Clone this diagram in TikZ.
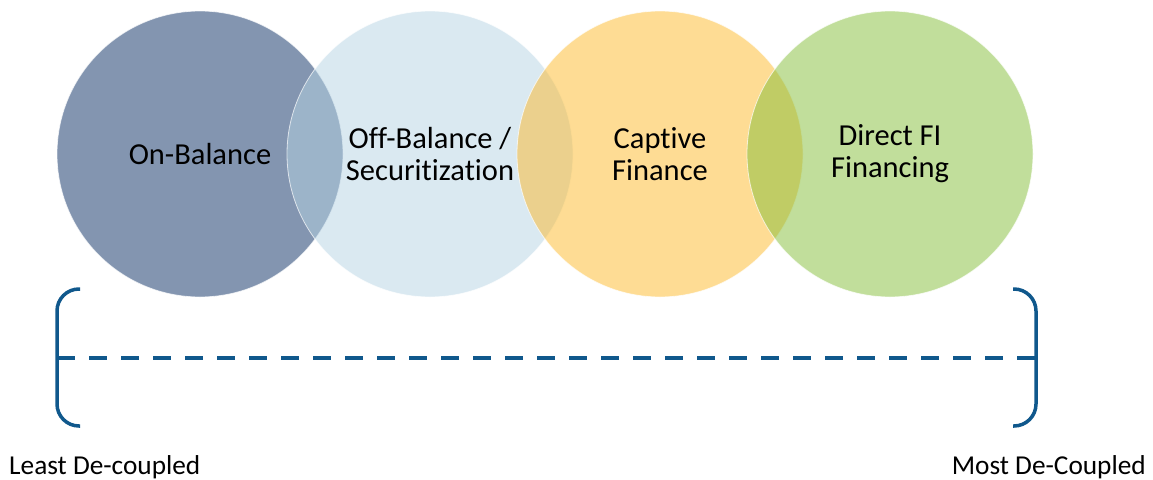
\documentclass[tikz,border=0pt]{standalone}
\usepackage{fontspec}
\setmainfont[Ligatures={NoCommon}]{Carlito}
\definecolor{cOne}{RGB}{7,43,97}
\definecolor{cTwo}{RGB}{181,211,227}
\definecolor{cThree}{RGB}{253,185,41}
\definecolor{cFour}{RGB}{131,189,55}
\definecolor{brk}{RGB}{16,88,140}
\begin{document}
\begin{tikzpicture}[x=1pt,y=-1pt,
  venn/.style={circle,minimum size=286pt,inner sep=0pt,fill opacity=0.5,text opacity=1,
    draw=white,draw opacity=0.7,line width=0.8pt,align=center,
    font=\fontsize{30.5}{32}\selectfont},
  brace/.style={draw=brk,line width=3.5pt,rounded corners=22pt},
  dline/.style={draw=brk,line width=3.5pt,dash pattern=on 18pt off 14pt},
  endlabel/.style={inner sep=0pt,font=\fontsize{27.3}{29}\selectfont}]
\useasboundingbox (0,0) rectangle (1153,479);
\node[venn,fill=cOne] (c1) at (200,154) {On-Balance};
\node[venn,fill=cTwo] (c2) at (430,154) {Off-Balance /\\Securitization};
\node[venn,fill=cThree] (c3) at (660,154) {Captive\\Finance};
\node[venn,fill=cFour] (c4) at (890,154) {Direct FI\\Financing};
% brackets
\coordinate (lt) at (80,289);
\coordinate (lm) at (57,358);
\coordinate (lb) at (80,426);
\coordinate (rt) at (1013,289);
\coordinate (rm) at (1036,358);
\coordinate (rb) at (1013,426);
\draw[brace] (lt) -- (57,289) -- (57,426) -- (lb);
\draw[brace] (rt) -- (1036,289) -- (1036,426) -- (rb);
\draw[dline] (lm) -- (rm);
\node[endlabel,anchor=base west] (least) at (9,474) {Least De-coupled};
\node[endlabel,anchor=base east] (most) at (1146,474) {Most De-Coupled};
\end{tikzpicture}
\end{document}
